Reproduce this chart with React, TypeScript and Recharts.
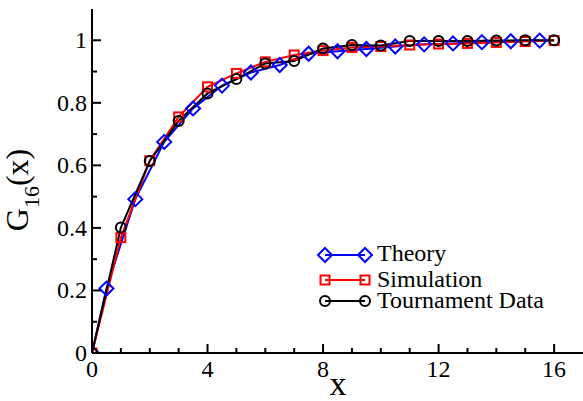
import { LineChart, Line, XAxis, YAxis, Label } from 'recharts'

const BLUE  = '#0000FF'
const RED   = '#FF0000'
const BLACK = '#000000'
const FONT  = "'Liberation Serif', 'Times New Roman', Times, serif"

// integer x points (simulation + tournament)
const X_INT = [0, 1, 2, 3, 4, 5, 6, 7, 8, 9, 10, 11, 12, 13, 14, 15, 16]
const SIMULATION = [0, 0.369, 0.615, 0.755, 0.851, 0.894, 0.931, 0.953, 0.967, 0.977, 0.980, 0.985, 0.988, 0.990, 0.993, 0.996, 0.999]
const TOURNAMENT = [0, 0.401, 0.614, 0.742, 0.830, 0.876, 0.926, 0.934, 0.974, 0.985, 0.983, 0.998, 0.998, 0.998, 0.999, 1.0, 1.0]

// theory is sampled at half points
const THEORY_X = [0, 0.5, 1.5, 2.5, 3.5, 4.5, 5.5, 6.5, 7.5, 8.5, 9.5, 10.5, 11.5, 12.5, 13.5, 14.5, 15.5]
const THEORY_Y = [0, 0.206, 0.492, 0.675, 0.782, 0.855, 0.897, 0.921, 0.957, 0.965, 0.972, 0.980, 0.987, 0.990, 0.994, 0.997, 0.999]

const X_TICKS  = [0, 1, 2, 3, 4, 5, 6, 7, 8, 9, 10, 11, 12, 13, 14, 15, 16]
const X_LABELS = [0, 4, 8, 12, 16]
const Y_TICKS  = [0, 0.1, 0.2, 0.3, 0.4, 0.5, 0.6, 0.7, 0.8, 0.9, 1]
const Y_LABELS = [0, 0.2, 0.4, 0.6, 0.8, 1]

const simData = X_INT.map((x, i) => ({ x, y: SIMULATION[i] }))
const tourData = X_INT.map((x, i) => ({ x, y: TOURNAMENT[i] }))
const theoryData = THEORY_X.map((x, i) => ({ x, y: THEORY_Y[i] }))

const MAJOR = 9
const MINOR = 5
const txt = { fontFamily: FONT }

function BottomTick({ x, y, payload }: any) {
  const major = X_LABELS.includes(payload.value)
  return (
    <g>
      <line x1={x} y1={y} x2={x} y2={y - (major ? MAJOR : MINOR)} stroke={BLACK} strokeWidth={2} />
      {major && (
        <text x={x} y={y + 24} textAnchor="middle" fontSize={24} style={txt} fill={BLACK}>
          {payload.value}
        </text>
      )}
    </g>
  )
}

function TopTick({ x, y, payload }: any) {
  const major = X_LABELS.includes(payload.value)
  return <line x1={x} y1={y} x2={x} y2={y + (major ? MAJOR : MINOR)} stroke={BLACK} strokeWidth={2} />
}

function LeftTick({ x, y, payload }: any) {
  const major = Y_LABELS.includes(payload.value)
  return (
    <g>
      <line x1={x} y1={y} x2={x + (major ? MAJOR : MINOR)} y2={y} stroke={BLACK} strokeWidth={2} />
      {major && (
        <text x={x - 5} y={y + 8} textAnchor="end" fontSize={24} style={txt} fill={BLACK}>
          {payload.value}
        </text>
      )}
    </g>
  )
}

function RightTick({ x, y, payload }: any) {
  const major = Y_LABELS.includes(payload.value)
  return <line x1={x} y1={y} x2={x - (major ? MAJOR : MINOR)} y2={y} stroke={BLACK} strokeWidth={2} />
}

function diamond(cx: number, cy: number, key?: any) {
  const r = 7
  return (
    <polygon key={key} points={`${cx},${cy - r} ${cx + r},${cy} ${cx},${cy + r} ${cx - r},${cy}`}
      fill="none" stroke={BLUE} strokeWidth={2} />
  )
}
function square(cx: number, cy: number, key?: any) {
  return <rect key={key} x={cx - 4.5} y={cy - 4.5} width={9} height={9} fill="none" stroke={RED} strokeWidth={2} />
}
function circle(cx: number, cy: number, key?: any) {
  return <circle key={key} cx={cx} cy={cy} r={5} fill="none" stroke={BLACK} strokeWidth={2} />
}

const dotOf = (fn: (cx: number, cy: number, key?: any) => any) => (p: any) =>
  p.cx == null ? <g key={p.key} /> : fn(p.cx, p.cy, p.key)

function LegendBox() {
  const rows = [
    { name: 'Theory', color: BLUE, mark: diamond, y: 255, base: 261 },
    { name: 'Simulation', color: RED, mark: square, y: 280, base: 287 },
    { name: 'Tournament Data', color: BLACK, mark: circle, y: 301, base: 308 },
  ]
  return (
    <svg width={583} height={401} style={{ position: 'absolute', left: 0, top: 0, pointerEvents: 'none' }}>
      {rows.map(r => (
        <g key={r.name}>
          <line x1={325} y1={r.y} x2={365} y2={r.y} stroke={r.color} strokeWidth={2} />
          {r.mark(325, r.y)}
          {r.mark(365, r.y)}
          <text x={377} y={r.base} fontSize={24} style={txt} fill={BLACK}>{r.name}</text>
        </g>
      ))}
    </svg>
  )
}

export default function App() {
  return (
    <div style={{ position: 'absolute', left: 0, top: 0, width: 583, height: 401, background: '#fff', fontFamily: FONT }}>
      <LineChart width={583} height={401} data={tourData} margin={{ top: 9, right: 0, left: 0, bottom: 0 }}>
        <XAxis
          xAxisId={0} dataKey="x" type="number" domain={[0, 17]} ticks={X_TICKS} interval={0}
          height={48} tickSize={0} tickMargin={0} tick={<BottomTick />}
          axisLine={{ stroke: BLACK, strokeWidth: 2 }} allowDataOverflow
        >
          <Label content={() => (
            <text x={338} y={395} textAnchor="middle" fontSize={34} style={txt} fill={BLACK}>x</text>
          )} />
        </XAxis>
        <XAxis
          xAxisId="top" orientation="top" dataKey="x" type="number" domain={[0, 17]} ticks={X_TICKS} interval={0}
          height={0} tickSize={0} tickMargin={0} tick={<TopTick />}
          axisLine={{ stroke: BLACK, strokeWidth: 2 }} allowDataOverflow
        />
        <YAxis
          yAxisId={0} type="number" domain={[0, 1.1]} ticks={Y_TICKS} interval={0}
          width={92} tickSize={0} tickMargin={0} tick={<LeftTick />}
          axisLine={{ stroke: BLACK, strokeWidth: 2 }} allowDataOverflow
        >
          <Label content={() => (
            <text transform="rotate(-90, 28, 190)" x={28} y={190} textAnchor="middle" fontSize={32} style={txt} fill={BLACK}>
              G<tspan fontSize={22} dy={11}>16</tspan><tspan dy={-11}>(x)</tspan>
            </text>
          )} />
        </YAxis>
        <YAxis
          yAxisId="right" orientation="right" type="number" domain={[0, 1.1]} ticks={Y_TICKS} interval={0}
          width={0} tickSize={0} tickMargin={0} tick={<RightTick />}
          axisLine={{ stroke: BLACK, strokeWidth: 2 }} allowDataOverflow
        />
        <Line data={theoryData} dataKey="y" type="linear" stroke={BLUE} strokeWidth={2}
          dot={dotOf(diamond)} activeDot={false} isAnimationActive={false} />
        <Line data={simData} dataKey="y" type="linear" stroke={RED} strokeWidth={2}
          dot={dotOf(square)} activeDot={false} isAnimationActive={false} />
        <Line data={tourData} dataKey="y" type="linear" stroke={BLACK} strokeWidth={2}
          dot={dotOf(circle)} activeDot={false} isAnimationActive={false} />
      </LineChart>
      <LegendBox />
    </div>
  )
}
